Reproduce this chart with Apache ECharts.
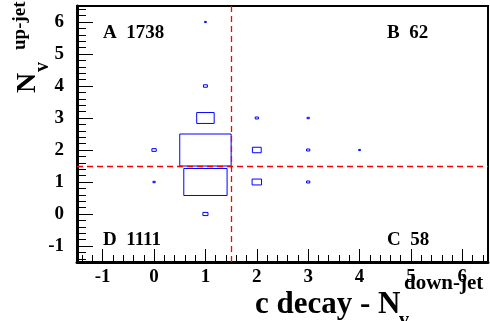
<!DOCTYPE html>
<html>
<head>
<meta charset="utf-8">
<script src="https://cdn.jsdelivr.net/npm/echarts@6/dist/echarts.min.js"></script>
<style>
html,body{margin:0;padding:0;background:#fff;}
#chart{width:490px;height:321px;}
</style>
</head>
<body>
<div id="chart"></div>
<script>
// Bin centres and contents (2D histogram drawn as boxes)
const cellX =     [1,    1,    1,   0,  1, 1, 1,  0, 2,  2, 3, 3, 4, 2,  3];
const cellY =     [2,    1,    3,   2,  4, 6, 0,  1, 2,  3, 2, 3, 2, 1,  1];
const cellCount = [1538, 1093, 178, 11, 9, 2, 15, 3, 45, 6, 6, 3, 2, 52, 6];

const xMajorTicks = [-1, 0, 1, 2, 3, 4, 5, 6];
const yMajorTicks = [-1, 0, 1, 2, 3, 4, 5, 6];
const cutX = 1.5;
const cutY = 1.5;
const regionLabels = ['A  1738', 'B  62', 'C  58', 'D  1111'];

function minorTicks(lo, hi) {
  const out = [];
  for (let i = Math.round(lo * 5); i <= Math.round(hi * 5); i++) {
    if (i % 5 !== 0) out.push(i / 5);
  }
  return out;
}
const xMinorTicks = minorTicks(-1.5, 6.5);
const yMinorTicks = minorTicks(-1.5, 6.5);

const maxCount = Math.max.apply(null, cellCount);
const data = cellX.map((x, i) => [x, cellY[i], cellCount[i]]);

const FONT = '"Liberation Serif", "Times New Roman", serif';
const chart = echarts.init(document.getElementById('chart'), null, {renderer: 'canvas'});

const labelStyle = {color: '#000', fontFamily: FONT, fontWeight: 'bold', fontSize: 19};

chart.setOption({
  animation: false,
  backgroundColor: '#fff',
  grid: {left: 77, right: 2, top: 6, bottom: 59, show: true, borderColor: '#000', borderWidth: 2, backgroundColor: 'transparent'},
  xAxis: [
    {type: 'value', min: -1.5, max: 6.5, position: 'bottom',
     axisLine: {show: true, onZero: false, lineStyle: {color: '#000', width: 3}},
     axisTick: {show: true, inside: true, length: 13, customValues: xMajorTicks, lineStyle: {color: '#000', width: 1}},
     axisLabel: Object.assign({show: true, customValues: xMajorTicks, margin: 6}, labelStyle),
     splitLine: {show: false}},
    {type: 'value', min: -1.5, max: 6.5, position: 'bottom',
     axisLine: {show: false, onZero: false},
     axisTick: {show: true, inside: true, length: 7, customValues: xMinorTicks, lineStyle: {color: '#000', width: 1}},
     axisLabel: {show: false}, splitLine: {show: false}}
  ],
  yAxis: [
    {type: 'value', min: -1.5, max: 6.5, position: 'left',
     axisLine: {show: true, onZero: false, lineStyle: {color: '#000', width: 3}},
     axisTick: {show: true, inside: true, length: 16, customValues: yMajorTicks, lineStyle: {color: '#000', width: 1}},
     axisLabel: Object.assign({show: true, customValues: yMajorTicks, margin: 13}, labelStyle),
     splitLine: {show: false}},
    {type: 'value', min: -1.5, max: 6.5, position: 'left',
     axisLine: {show: false, onZero: false},
     axisTick: {show: true, inside: true, length: 9, customValues: yMinorTicks, lineStyle: {color: '#000', width: 1}},
     axisLabel: {show: false}, splitLine: {show: false}}
  ],
  series: [
    {
      type: 'custom',
      xAxisIndex: 0, yAxisIndex: 0,
      data: data,
      renderItem: function (params, api) {
        const c = api.coord([api.value(0), api.value(1)]);
        const s = api.size([1, 1]);
        const f = Math.sqrt(api.value(2) / maxCount);
        const w = s[0] * f, h = s[1] * f;
        return {
          type: 'rect',
          shape: {x: c[0] - w / 2, y: c[1] - h / 2, width: w, height: h},
          style: {fill: 'none', stroke: '#0000ff', lineWidth: 1}
        };
      },
      markLine: {
        silent: true, symbol: 'none', label: {show: false},
        lineStyle: {color: '#ff0000', type: [6, 4], width: 1.3},
        data: [{xAxis: cutX}, {yAxis: cutY}]
      }
    }
  ],
  graphic: [
    {type: 'text', left: 103, top: 24, style: {text: regionLabels[0], font: 'bold 19px ' + FONT, fill: '#000'}},
    {type: 'text', left: 387, top: 24, style: {text: regionLabels[1], font: 'bold 19px ' + FONT, fill: '#000'}},
    {type: 'text', left: 387, top: 231, style: {text: regionLabels[2], font: 'bold 19px ' + FONT, fill: '#000'}},
    {type: 'text', left: 103, top: 231, style: {text: regionLabels[3], font: 'bold 19px ' + FONT, fill: '#000'}},
    // x title
    {type: 'text', x: 255, y: 320, style: {text: 'c decay - N', font: 'bold 31px ' + FONT, fill: '#000', textAlign: 'left', textVerticalAlign: 'bottom'}},
    {type: 'text', x: 399, y: 331, style: {text: 'v', font: 'bold 20px ' + FONT, fill: '#000', textAlign: 'left', textVerticalAlign: 'bottom'}},
    {type: 'text', x: 404, y: 294, style: {text: 'down-jet', font: 'bold 21px ' + FONT, fill: '#000', textAlign: 'left', textVerticalAlign: 'bottom'}},
    // y title (rotated)
    {type: 'text', x: 42, y: 93, rotation: Math.PI / 2, style: {text: 'N', font: 'bold 28px ' + FONT, fill: '#000', textAlign: 'left', textVerticalAlign: 'bottom'}},
    {type: 'text', x: 53, y: 72, rotation: Math.PI / 2, style: {text: 'v', font: 'bold 20px ' + FONT, fill: '#000', textAlign: 'left', textVerticalAlign: 'bottom'}},
    {type: 'text', x: 30, y: 50, rotation: Math.PI / 2, style: {text: 'up-jet', font: 'bold 19px ' + FONT, fill: '#000', textAlign: 'left', textVerticalAlign: 'bottom'}}
  ]
});
</script>
</body>
</html>
